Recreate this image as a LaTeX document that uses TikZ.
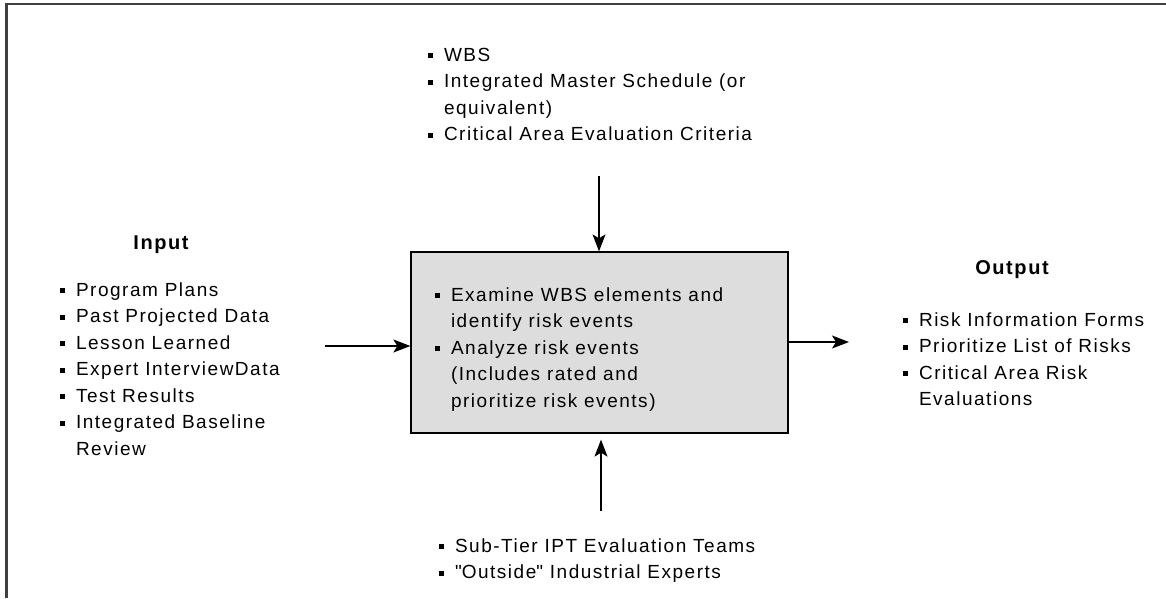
\documentclass[tikz,border=0pt]{standalone}
\usepackage{fontspec}
\setmainfont{Liberation Sans}[LetterSpace=8]
\usetikzlibrary{arrows.meta}
\newcommand{\bsq}{\rule[3pt]{5pt}{5pt}}
\newenvironment{blist}{\fontsize{19}{26.5}\selectfont\begin{tabular}[t]{@{}l@{\hspace{11pt}}l@{}}}{\end{tabular}}
\tikzset{
  lst/.style={anchor=base west, inner sep=0pt, outer sep=0pt},
  ttl/.style={font=\fontsize{20}{24}\selectfont\bfseries, inner sep=0pt},
  procbox/.style={draw=black, line width=1.3pt, fill=boxgray, inner sep=0pt, minimum width=377pt, minimum height=181pt},
  flow/.style={line width=1.1pt, -{Stealth[length=17pt,width=13pt,inset=4pt]}},
  frame/.style={line width=2.2pt, draw=black!75}
}
\definecolor{boxgray}{HTML}{DDDDDD}
\begin{document}
\begin{tikzpicture}[x=1pt,y=-1pt]
\useasboundingbox (0,0) rectangle (1166,598);
\draw[frame] (6.5,598) -- (6.5,4) -- (1166,4);

\node[procbox] (proc) at (599.5,342.5) {};

\node[lst] (top) at (428,61) {\begin{blist}
\bsq & WBS\\
\bsq & Integrated Master Schedule (or\\
 & equivalent)\\
\bsq & Critical Area Evaluation Criteria
\end{blist}};

\node[ttl] (intitle) at (161,245) {Input};
\node[lst] (inlist) at (60,296) {\begin{blist}
\bsq & Program Plans\\
\bsq & Past Projected Data\\
\bsq & Lesson Learned\\
\bsq & Expert InterviewData\\
\bsq & Test Results\\
\bsq & Integrated Baseline\\
 & Review
\end{blist}};

\node[lst] (proctext) at (435,301) {\begin{blist}
\bsq & Examine WBS elements and\\
 & identify risk events\\
\bsq & Analyze risk events\\
 & (Includes rated and\\
 & prioritize risk events)
\end{blist}};

\node[ttl] (outtitle) at (1012,270) {Output};
\node[lst] (outlist) at (903,326) {\begin{blist}
\bsq & Risk Information Forms\\
\bsq & Prioritize List of Risks\\
\bsq & Critical Area Risk\\
 & Evaluations
\end{blist}};

\node[lst] (bottom) at (439,552) {\begin{blist}
\bsq & Sub-Tier IPT Evaluation Teams\\
\bsq & \textquotedbl Outside\textquotedbl\ Industrial Experts
\end{blist}};

\coordinate (topstart) at (599,176);
\coordinate (instart) at (325,346);
\coordinate (outend) at (849,342);
\coordinate (botstart) at (601,511);

\draw[flow] (topstart) -- (topstart |- proc.north);
\draw[flow] (instart) -- (instart -| proc.west);
\draw[flow] (outend -| proc.east) -- (outend);
\draw[flow, shorten >=6pt] (botstart) -- (botstart |- proc.south);
\end{tikzpicture}
\end{document}
